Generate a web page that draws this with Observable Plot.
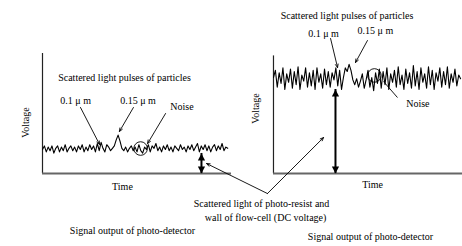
<!DOCTYPE html>
<html><head><meta charset="utf-8">
<script src="https://cdn.jsdelivr.net/npm/d3@7"></script>
<script src="https://cdn.jsdelivr.net/npm/@observablehq/plot@0.6"></script>
<style>html,body{margin:0;padding:0;background:#fff} svg text{font-family:'Liberation Serif','Times New Roman',serif !important}</style>
</head><body><div id="chart"></div>
<script>
// ---- data ----
const panels = ["left", "right"];
// photo-detector signal (voltage, arbitrary units), one sample per time step
const leftSignal = [
  20,23,18,22,19,23,17,21,23,18,
  22,19,24,18,21,23,19,22,18,23,
  20,24,18,22,19,24,20,23,18,25,
  19,26,21,18,24,22,19,21,23,28,
  32,27,21,19,22,18,21,23,19,22,
  18,24,19,17,22,20,24,18,23,21,
  25,19,22,18,23,20,24,19,22,18,
  23,21,19,24,20,22,18,23,20,24,
  19,22,25,18,23,20,24,19,23,18,
  22,24,19,23,20,25,19,22,21
];
const rightSignal = [
  80,86,72,84,75,88,70,83,76,87,
  71,85,74,89,70,82,77,88,72,84,
  73,86,70,88,76,83,71,87,74,85,
  72,84,78,88,73,86,70,80,88,85,
  91,86,78,74,79,72,77,83,71,78,
  86,72,80,69,84,75,87,71,85,74,
  88,70,83,76,86,72,89,74,82,70,
  87,75,84,71,90,73,85,70,88,76,
  83,71,89,74,86,70,84,77,88,72,
  85,74,89,71,83,76,87,73,82,79
];
const dcLevel = {left: 16.7, right: 70};          // DC voltage of each panel
const titleText = "Scattered light pulses of particles";
const pulseLabels = ["0.1 \u03bc m", "0.15 \u03bc m"];
const noiseLabel = "Noise";
const xLabel = "Time";
const yLabel = "Voltage";
const captionText = "Signal output of photo-detector";
const dcText = ["Scattered light of photo-resist and", "wall of flow-cell (DC voltage)"];

// ---- layout (data units: time 0..100 per panel, voltage 0..100) ----
const RIGHT_ORIGIN = 122.2;
const off = p => p === "right" ? RIGHT_ORIGIN : 0;
const layout = {
  left:  {title:[43.4,80], p1:[17.5,60.8], p2:[50.5,60.8], noise:[73.8,55.4], time:[42.3,-10.8], volt:[-9,42.5], cap:[47.6,-47.5],
          a1:[20.1,55,30.2,24.2], a2:[48.1,55,40.7,35], circle:[51.9,20.8], dcX:84.1, yTop:100, dcTarget:[86.8,8.3]},
  right: {title:[38.9,131.7], p1:[26.5,116.7], p2:[53.9,119.2], noise:[76.4,58.3], time:[52.4,-9.2], volt:[-9.5,54.2], cap:[51.3,-52.5],
          a1:[30.2,112.5,33.9,88.3], a2:[49.7,110.8,43.4,92.5], circle:[53.4,81.7], dcX:32.8, yTop:98, dcTarget:[26.5,30]}
};
const noiseArrowLeft = [65.1,50,55.6,25];
const noiseLineRight = [58.2,76.7,65.6,63.3];
const dcHub = [119.0,-16.7];
const dcText1 = [115.9,-25], dcText2 = [118,-36.7];

// ---- tables ----
const signal = [
  ...leftSignal.map((v,i) => ({panel:"left", t:off("left")+i, v})),
  ...rightSignal.map((v,i) => ({panel:"right", t:off("right")+i, v}))
];
const texts = [], arrows = [], rotTexts = [], circles = [], dcArrows = [], yAxes = [], xAxes = [];
for (const p of panels) {
  const L = layout[p], o = off(p);
  texts.push({t:o+L.title[0], v:L.title[1], s:titleText});
  texts.push({t:o+L.p1[0], v:L.p1[1], s:pulseLabels[0]});
  texts.push({t:o+L.p2[0], v:L.p2[1], s:pulseLabels[1]});
  texts.push({t:o+L.noise[0], v:L.noise[1], s:noiseLabel});
  texts.push({t:o+L.time[0], v:L.time[1], s:xLabel});
  texts.push({t:o+L.cap[0], v:L.cap[1], s:captionText});
  rotTexts.push({t:o+L.volt[0], v:L.volt[1], s:yLabel});
  arrows.push({x1:o+L.a1[0], y1:L.a1[1], x2:o+L.a1[2], y2:L.a1[3]});
  arrows.push({x1:o+L.a2[0], y1:L.a2[1], x2:o+L.a2[2], y2:L.a2[3]});
  circles.push({t:o+L.circle[0], v:L.circle[1]});
  dcArrows.push({t:o+L.dcX, v1:0, v2:dcLevel[p]});
  arrows.push({x1:dcHub[0], y1:dcHub[1], x2:o+L.dcTarget[0], y2:L.dcTarget[1]});
  yAxes.push({t:o, v1:0, v2:L.yTop});
  xAxes.push({t1:o, t2:o+100});
}
arrows.push({x1:noiseArrowLeft[0], y1:noiseArrowLeft[1], x2:noiseArrowLeft[2], y2:noiseArrowLeft[3]});
texts.push({t:dcText1[0], v:dcText1[1], s:dcText[0]});
texts.push({t:dcText2[0], v:dcText2[1], s:dcText[1]});
const plainLines = [{x1:RIGHT_ORIGIN+noiseLineRight[0], y1:noiseLineRight[1], x2:RIGHT_ORIGIN+noiseLineRight[2], y2:noiseLineRight[3]}];

// arrowhead symbols (tip at origin)
const headUp = {draw(c){c.moveTo(0,0); c.lineTo(-3.6,7); c.lineTo(3.6,7); c.closePath();}};
const headDown = {draw(c){c.moveTo(0,0); c.lineTo(-3.6,-7); c.lineTo(3.6,-7); c.closePath();}};
const serif = "'Liberation Serif', 'Times New Roman', serif";

const chart = Plot.plot({
  width: 462, height: 246,
  marginLeft: 42, marginRight: 0, marginTop: 53, marginBottom: 73,
  x: {domain: [0, RIGHT_ORIGIN + 100], axis: null},
  y: {domain: [0, 100], axis: null},
  style: {fontFamily: serif, fontSize: "10px", background: "#fff", overflow: "visible"},
  marks: [
    Plot.ruleX(yAxes, {x: "t", y1: "v1", y2: "v2", stroke: "#222", strokeWidth: 1.2}),
    Plot.ruleY(xAxes, {y: 0, x1: "t1", x2: "t2", stroke: "#666", strokeWidth: 1.8}),
    Plot.line(signal, {x: "t", y: "v", z: "panel", stroke: "#000", strokeWidth: 1.1}),
    Plot.ruleX(dcArrows, {x: "t", y1: "v1", y2: "v2", stroke: "#000", strokeWidth: 2}),
    Plot.dot(dcArrows, {x: "t", y: "v2", symbol: headUp, fill: "#000", stroke: "none"}),
    Plot.dot(dcArrows, {x: "t", y: "v1", symbol: headDown, fill: "#000", stroke: "none"}),
    Plot.dot(circles, {x: "t", y: "v", r: 6.8, stroke: "#000", strokeWidth: 0.9, fill: "none"}),
    Plot.arrow(arrows, {x1: "x1", y1: "y1", x2: "x2", y2: "y2", stroke: "#000", strokeWidth: 0.9, headLength: 6, headAngle: 45}),
    Plot.link(plainLines, {x1: "x1", y1: "y1", x2: "x2", y2: "y2", stroke: "#000", strokeWidth: 0.9}),
    Plot.text(texts, {x: "t", y: "v", text: "s", fill: "#000", fontSize: 10, fontFamily: serif}),
    Plot.text(rotTexts, {x: "t", y: "v", text: "s", fill: "#000", fontSize: 10, fontFamily: serif, rotate: -90})
  ]
});
document.getElementById("chart").appendChild(chart);
</script>
</body></html>
